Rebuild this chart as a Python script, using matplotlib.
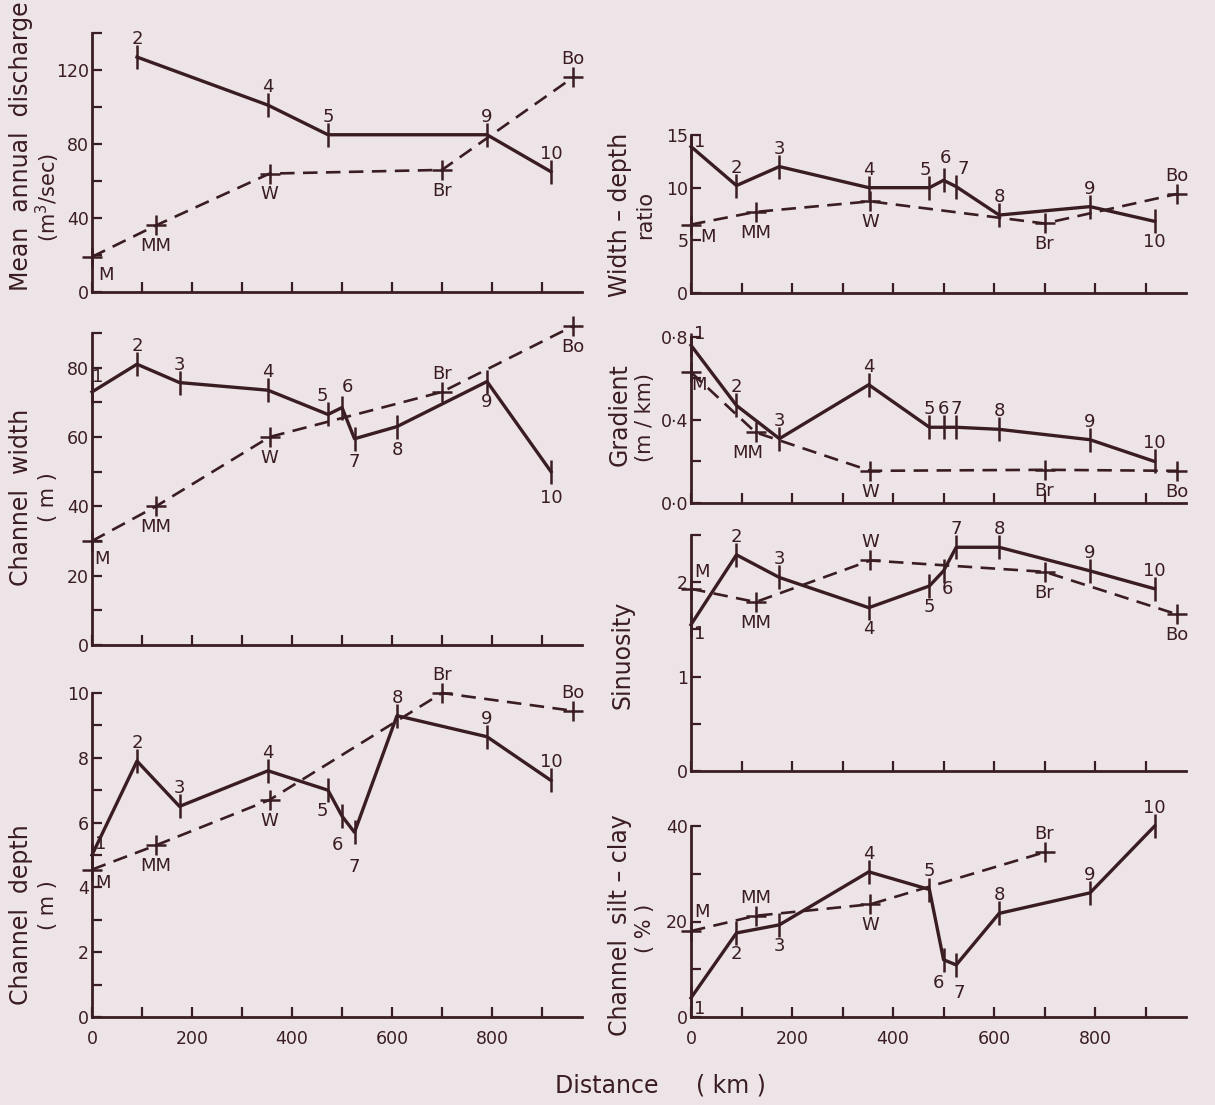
import matplotlib
matplotlib.use('Agg')
import matplotlib.pyplot as plt
from matplotlib.ticker import FixedLocator, FixedFormatter

# ---------------- data ----------------
station_ids = ['1', '2', '3', '4', '5', '6', '7', '8', '9', '10']
station_km = [0, 90, 175, 352, 472, 500, 525, 610, 790, 918]
gauge_ids = ['M', 'MM', 'W', 'Br', 'Bo']
gauge_km = [0, 128, 355, 700, 962]

discharge_station_ids = ['2', '4', '5', '9', '10']
discharge_stations = [127, 101, 85, 85, 65]
discharge_gauges = [19, 36, 64, 66, 116]

width_stations = [73, 81, 75.7, 73.5, 66.5, 68.5, 59.5, 63, 76, 50]
width_gauges = [30, 40, 60, 73, 92]

depth_stations = [5.0, 7.9, 6.5, 7.6, 7.0, 6.2, 5.7, 9.3, 8.65, 7.3]
depth_gauges = [4.55, 5.3, 6.7, 10.0, 9.45]

wd_stations = [13.9, 10.2, 12.0, 10.0, 10.0, 10.7, 10.1, 7.4, 8.2, 6.8]
wd_gauges = [6.5, 7.7, 8.7, 6.6, 9.4]

gradient_stations = [0.76, 0.47, 0.31, 0.57, 0.365, 0.365, 0.365, 0.355, 0.305, 0.20]
gradient_gauges = [0.63, 0.34, 0.155, 0.16, 0.155]

sinuosity_stations = [1.55, 2.29, 2.05, 1.73, 1.96, 2.12, 2.37, 2.37, 2.12, 1.93]
sinuosity_gauges = [1.93, 1.79, 2.23, 2.11, 1.66]

siltclay_stations = [4, 17.6, 19.3, 30.4, 26.7, 12.0, 10.9, 21.7, 26.0, 40.0]
siltclay_gauge_ids = ['M', 'MM', 'W', 'Br']
siltclay_gauges = [18, 21.2, 23.6, 34.5]

x_tick_labels = ['0', '200', '400', '600', '800']

# ---------------- style ----------------
BG = '#ede4e7'
INK = '#3a1d22'
W, H = 1215, 1105
plt.rcParams['font.family'] = ['DejaVu Sans']

fig = plt.figure(figsize=(W / 100, H / 100), dpi=100, facecolor=BG)

A = (0, 13)
B = (0, -15)


def rect(x0, x1, ytop, ybot):
    return [x0 / W, 1 - ybot / H, (x1 - x0) / W, (ybot - ytop) / H]


def make_axes(r, ylim, major, labels_fmt, minor, xlabels):
    ax = fig.add_axes(r, facecolor=BG)
    ax.set_xlim(0, 980)
    ax.set_ylim(*ylim)
    for s in ['top', 'right']:
        ax.spines[s].set_visible(False)
    for s in ['left', 'bottom']:
        ax.spines[s].set_color(INK)
        ax.spines[s].set_linewidth(2.0)
    ax.xaxis.set_major_locator(FixedLocator([0, 200, 400, 600, 800]))
    ax.xaxis.set_minor_locator(FixedLocator([100, 300, 500, 700, 900]))
    if xlabels:
        ax.xaxis.set_major_formatter(FixedFormatter(x_tick_labels))
    else:
        ax.set_xticklabels([])
    ax.yaxis.set_major_locator(FixedLocator(major))
    ax.yaxis.set_major_formatter(FixedFormatter(labels_fmt))
    ax.yaxis.set_minor_locator(FixedLocator(minor))
    ax.tick_params(which='both', direction='in', color=INK, width=1.6,
                   labelcolor=INK, labelsize=12.5, length=7)
    ax.tick_params(axis='x', pad=9)
    ax.tick_params(axis='y', pad=2)
    return ax


def draw(ax, sx, sy, sids, soffs, gx, gy, gids, goffs):
    ax.plot(gx, gy, color=INK, lw=1.9, dashes=(5.5, 3.2), clip_on=False,
            dash_capstyle='butt')
    ax.plot(gx, gy, ls='none', marker='+', ms=15, mew=1.8, color=INK,
            clip_on=False)
    ax.plot(sx, sy, color=INK, lw=2.4, clip_on=False)
    ax.plot(sx, sy, ls='none', marker='|', ms=17, mew=1.8, color=INK,
            clip_on=False)
    for x, y, t, o in zip(sx, sy, sids, soffs):
        ax.annotate(t, (x, y), xytext=o, textcoords='offset points',
                    ha='center', va='center', fontsize=13, color=INK,
                    annotation_clip=False)
    for x, y, t, o in zip(gx, gy, gids, goffs):
        ax.annotate(t, (x, y), xytext=o, textcoords='offset points',
                    ha='center', va='center', fontsize=13, color=INK,
                    annotation_clip=False)


def ftext(x, y, s, size=16, rot=90):
    fig.text(x / W, 1 - y / H, s, rotation=rot, ha='center', va='center',
             fontsize=size, color=INK)


LX0, LX1 = 92, 582
RX0, RX1 = 691, 1186
L1, L2 = 21, 48
R1, R2 = 620, 645

# --- discharge ---
ax = make_axes(rect(LX0, LX1, 33, 292), (0, 140), [0, 40, 80, 120],
               ['0', '40', '80', '120'], [20, 60, 100, 140], False)
dx = [station_km[station_ids.index(s)] for s in discharge_station_ids]
draw(ax, dx, discharge_stations, discharge_station_ids, [A] * 5,
     gauge_km, discharge_gauges, gauge_ids,
     [(10, -13), B, B, B, A])
ftext(L1, 146, 'Mean  annual  discharge', 17)
ftext(L2, 197, '(m$^3$/sec)', 15)

# --- width ---
ax = make_axes(rect(LX0, LX1, 333, 645), (0, 90), [0, 20, 40, 60, 80],
               ['0', '20', '40', '60', '80'], [10, 30, 50, 70, 90], False)
draw(ax, station_km, width_stations, station_ids,
     [(4, 11), A, A, A, (-4, 13), (4, 15), (0, -17), (0, -17), (0, -15), (0, -19)],
     gauge_km, width_gauges, gauge_ids,
     [(7, -13), B, B, A, B])
ftext(L1, 497, 'Channel  width', 17)
ftext(L2, 497, '( m )', 15)

# --- depth ---
ax = make_axes(rect(LX0, LX1, 693, 1017), (0, 10), [0, 2, 4, 6, 8, 10],
               ['0', '2', '4', '6', '8', '10'], [1, 3, 5, 7, 9], True)
draw(ax, station_km, depth_stations, station_ids,
     [(6, 8), A, A, A, (-4, -15), (-3, -21), (0, -25), A, A, A],
     gauge_km, depth_gauges, gauge_ids,
     [(8, -10), B, B, A, A])
ftext(L1, 915, 'Channel  depth', 17)
ftext(L2, 905, '( m )', 15)

# --- width-depth ratio ---
ax = make_axes(rect(RX0, RX1, 135, 293), (0, 15), [0, 5, 10, 15],
               ['0', '5', '10', '15'], [], False)
draw(ax, station_km, wd_stations, station_ids,
     [(6, 3), A, A, A, (-3, 13), (1, 16), (5, 13), A, A, B],
     gauge_km, wd_gauges, gauge_ids,
     [(12, -9), B, B, B, A])
ftext(R1, 215, 'Width – depth', 17)
ftext(R2, 215, 'ratio', 15)

# --- gradient ---
ax = make_axes(rect(RX0, RX1, 337, 503), (0, 0.8), [0, 0.4, 0.8],
               ['0·0', '0·4', '0·8'], [0.2, 0.6], False)
draw(ax, station_km, gradient_stations, station_ids,
     [(6, 8), A, A, A, A, A, A, A, A, A],
     gauge_km, gradient_gauges, gauge_ids,
     [(6, -9), (-6, -15), B, B, B])
ftext(R1, 415, 'Gradient', 17)
ftext(R2, 418, '(m / km)', 15)

# --- sinuosity ---
ax = make_axes(rect(RX0, RX1, 535, 771), (0, 2.5), [0, 1, 2],
               ['0', '1', '2'], [0.5, 1.5, 2.5], False)
draw(ax, station_km, sinuosity_stations, station_ids,
     [(6, -7), A, A, B, B, (3, -13), A, A, A, A],
     gauge_km, sinuosity_gauges, gauge_ids,
     [(8, 12), B, A, B, B])
ftext(R1 + 3, 655, 'Sinuosity', 17)

# --- silt-clay ---
ax = make_axes(rect(RX0, RX1, 826, 1017), (0, 40), [0, 20, 40],
               ['0', '20', '40'], [10, 30], True)
draw(ax, station_km, siltclay_stations, station_ids,
     [(6, -8), B, B, A, A, (-4, -17), (2, -20), A, A, A],
     gauge_km[:4], siltclay_gauges, siltclay_gauge_ids,
     [(8, 14), A, B, A])
ftext(R1, 925, 'Channel  silt – clay', 17)
ftext(R2, 928, '( % )', 15)

ftext(660, 1085, 'Distance     ( km )', 17, rot=0)

fig.savefig('out.png', dpi=100, facecolor=BG)
